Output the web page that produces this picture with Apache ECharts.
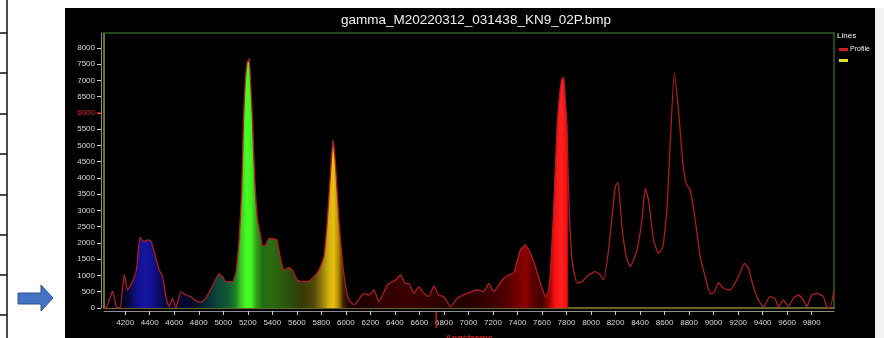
<!DOCTYPE html>
<html>
<head>
<meta charset="utf-8">
<script src="https://cdn.jsdelivr.net/npm/echarts@6/dist/echarts.min.js"></script>
<style>
html,body{margin:0;padding:0;background:#fff;}
#wrap{position:relative;width:884px;height:338px;overflow:hidden;background:#fff;}
#panel{position:absolute;left:65px;top:8px;width:810px;height:330px;background:#000;}
#side{position:absolute;left:875px;top:8px;width:9px;height:330px;background:#f2f2f2;}
#chart{position:absolute;left:0;top:0;width:884px;height:338px;}
</style>
</head>
<body>
<div id="wrap"><div id="panel"></div><div id="side"></div><div id="chart"></div></div>
<script>
// ---- data ----
const chartTitle = 'gamma_M20220312_031438_KN9_02P.bmp';
const xAxisName = 'Angstroms';
const seriesName = 'Profile';
const wavelengths = [4027,4044,4070,4097,4120,4132,4159,4192,4219,4260,4293,4320,4350,4383,4409,4442,4477,4505,4532,4558,4586,4613,4654,4695,4735,4776,4817,4857,4912,4966,4994,5020,5075,5102,5129,5150,5165,5180,5197,5205,5212,5225,5238,5257,5280,5300,5319,5346,5373,5414,5437,5469,5495,5536,5563,5604,5645,5686,5727,5781,5822,5849,5876,5895,5917,5943,5971,5998,6025,6066,6093,6147,6188,6229,6269,6338,6405,6446,6487,6514,6555,6595,6636,6677,6717,6758,6799,6853,6908,6990,7071,7125,7166,7206,7275,7328,7369,7424,7464,7505,7546,7587,7628,7650,7668,7695,7723,7758,7777,7790,7804,7817,7845,7886,7926,7980,8035,8075,8102,8143,8198,8220,8252,8287,8320,8375,8415,8442,8469,8510,8551,8586,8619,8646,8679,8713,8749,8776,8809,8850,8890,8931,8972,8999,9039,9080,9135,9202,9251,9284,9324,9365,9406,9461,9501,9528,9569,9610,9650,9691,9732,9760,9800,9841,9895,9922,9949,9982];
const intensities = [0,0,250,520,150,0,0,1037,553,810,1200,2175,2040,2092,2061,1661,1170,964,348,40,298,0,502,400,348,225,174,298,677,1046,964,810,810,1067,2092,3600,5785,7000,7600,7580,7680,6800,5785,3938,2700,2300,1917,1938,2144,2123,2092,1477,1170,1241,1170,862,810,810,913,1170,1600,2708,4246,5170,4348,2708,1477,656,250,100,194,452,400,554,194,708,862,1015,760,760,452,656,452,348,677,400,348,40,298,452,554,502,760,502,862,1015,1067,1785,1938,1682,1272,760,348,500,1067,3015,5580,7015,7098,6400,5580,3530,1477,760,810,1015,1117,1015,862,1785,3733,3856,2502,1579,1272,1785,2708,3682,3323,2092,1682,1887,3015,5068,7221,6092,4452,3836,3631,2708,1579,964,452,452,779,606,554,964,1374,1221,656,246,40,348,298,40,246,40,298,400,246,40,400,452,348,40,0,554];
const xTickLabels = [4200,4400,4600,4800,5000,5200,5400,5600,5800,6000,6200,6400,6600,6800,7000,7200,7400,7600,7800,8000,8200,8400,8600,8800,9000,9200,9400,9600,9800];
const yTickLabels = [0,500,1000,1500,2000,2500,3000,3500,4000,4500,5000,5500,6000,6500,7000,7500,8000];
// fill colour along the spectrum: [wavelength, colour]
const fillStops = [[4027,'#00000a'],[4170,'#000014'],[4240,'#0a0a48'],[4290,'#10108a'],[4370,'#1616a2'],[4430,'#10108a'],[4480,'#0a0a60'],[4540,'#05053a'],[4650,'#040430'],[4780,'#02102a'],[4880,'#083035'],[4960,'#0c4a3a'],[5040,'#105a30'],[5100,'#20802a'],[5150,'#40d020'],[5190,'#44ff22'],[5230,'#40f020'],[5270,'#30a018'],[5320,'#206c14'],[5400,'#2a6c12'],[5480,'#2c5c10'],[5560,'#2a4a0c'],[5650,'#383a08'],[5740,'#504a08'],[5810,'#9a8010'],[5860,'#d0b010'],[5900,'#e8c010'],[5940,'#b08a00'],[5980,'#402000'],[6020,'#200800'],[6100,'#1a0000'],[6300,'#300000'],[6500,'#3a0000'],[6700,'#300000'],[6900,'#200000'],[7100,'#300000'],[7300,'#500000'],[7420,'#7a0000'],[7470,'#900000'],[7520,'#600000'],[7600,'#400000'],[7660,'#a00000'],[7700,'#f01010'],[7760,'#ff2020'],[7800,'#ee1010'],[7808,'#cc0000'],[7812,'rgba(0,0,0,0)'],[9982,'rgba(0,0,0,0)']];
const cursorWavelength = 6737;
const highlightY = 6000;
const xMin = 4027, xMax = 9982, yMax = 8460;

// ---- chart ----
const chart = echarts.init(document.getElementById('chart'), null, {renderer:'canvas'});
const wMin = wavelengths[0], wMax = wavelengths[wavelengths.length-1];
const grad = new echarts.graphic.LinearGradient(0,0,1,0, fillStops.map(s => ({offset:(s[0]-wMin)/(wMax-wMin), color:s[1]})));
const FONT = 'Liberation Sans, Arial, sans-serif';

const hLines = [33,73,114,154,195,235,275,315].map((y,i) => ({
  type:'line', id:'h'+i, shape:{x1:0,y1:y,x2:7,y2:y}, style:{stroke:'#111',lineWidth:1.5}
}));

const option = {
  backgroundColor:'transparent',
  animation:false,
  title:{text:chartTitle, left:336, top:8, textStyle:{color:'#f0f0f0', fontSize:13.5, fontWeight:'normal', fontFamily:FONT}},
  legend:{
    orient:'vertical', left:839, top:46, padding:0, itemWidth:9, itemHeight:3, itemGap:6, icon:'rect',
    data:[{name:seriesName},{name:'yellow'}],
    formatter: n => n===seriesName ? n : '',
    textStyle:{color:'#f0f0f0', fontSize:7, fontFamily:FONT, padding:[0,0,0,-3]}
  },
  grid:{left:104, top:33, width:730, height:275, show:false, outerBoundsMode:'none', containLabel:false},
  xAxis:[
    {type:'value', min:xMin, max:xMax, position:'bottom', offset:3, gridIndex:0,
     axisLine:{show:true, onZero:false, lineStyle:{color:'#8e8e8e', width:1}},
     axisTick:{show:true, customValues:xTickLabels, length:4, lineStyle:{color:'#d0d0d0'}},
     axisLabel:{customValues:xTickLabels, formatter:v => String(v), color:'#d8d8d8', fontSize:8, margin:8, fontFamily:FONT},
     splitLine:{show:false},
     name:xAxisName, nameLocation:'middle', nameGap:23,
     nameTextStyle:{color:'#e02020', fontSize:9, fontWeight:'bold', fontFamily:FONT}},
    {type:'value', min:xMin, max:xMax, position:'bottom', offset:0,
     axisLine:{show:true, onZero:false, lineStyle:{color:'#8c8638', width:1.5}},
     axisTick:{show:false}, axisLabel:{show:false}, splitLine:{show:false}},
    {type:'value', min:xMin, max:xMax, position:'top', offset:0,
     axisLine:{show:true, onZero:false, lineStyle:{color:'#2e5e26', width:1.5}},
     axisTick:{show:false}, axisLabel:{show:false}, splitLine:{show:false}}
  ],
  yAxis:[
    {type:'value', min:0, max:yMax, position:'left', offset:3,
     axisLine:{show:true, onZero:false, lineStyle:{color:'#8e8e8e', width:1}},
     axisTick:{show:true, customValues:yTickLabels, length:4, lineStyle:{color:'#d0d0d0'}},
     axisLabel:{customValues:yTickLabels, formatter:v => String(v), fontSize:8, margin:6, fontFamily:FONT,
       color:(v) => (Number(v)===highlightY ? '#e02020' : '#d8d8d8')},
     splitLine:{show:false}},
    {type:'value', min:0, max:yMax, position:'left', offset:0,
     axisLine:{show:true, onZero:false, lineStyle:{color:'#9a9440', width:1.5}},
     axisTick:{show:false}, axisLabel:{show:false}, splitLine:{show:false}},
    {type:'value', min:0, max:yMax, position:'right', offset:0,
     axisLine:{show:true, onZero:false, lineStyle:{color:'#2e5e26', width:1.5}},
     axisTick:{show:false}, axisLabel:{show:false}, splitLine:{show:false}}
  ],
  series:[
    {name:seriesName, type:'line', xAxisIndex:0, yAxisIndex:0, symbol:'none', smooth:0.15,
     data: wavelengths.map((w,i) => [w, intensities[i]]),
     lineStyle:{color:'#b01c22', width:1.3}, itemStyle:{color:'#d01c20'},
     areaStyle:{color:grad, opacity:1}, z:3},
    {name:'yellow', type:'line', xAxisIndex:0, yAxisIndex:0, data:[], itemStyle:{color:'#e0e020'}, lineStyle:{color:'#e0e020'}}
  ],
  graphic:[
    {type:'line', id:'vline', shape:{x1:7,y1:0,x2:7,y2:338}, style:{stroke:'#111',lineWidth:1.5}},
    ...hLines,
    {type:'polygon', id:'arrow', shape:{points:[[18,293],[41,293],[41,285],[53,298],[41,311],[41,304],[18,304]]},
     style:{fill:'#4472c4', stroke:'#2f528f', lineWidth:1}},
    {type:'text', id:'lines', left:837, top:32, style:{text:'Lines', fill:'#f0f0f0', fontSize:8, fontFamily:FONT}}
  ]
};
chart.setOption(option);

// cursor marker + highlighted tick, placed through the axes' own scales
const cx = chart.convertToPixel({xAxisIndex:0}, cursorWavelength);
const hy = chart.convertToPixel({yAxisIndex:0}, highlightY);
const baseY = chart.convertToPixel({yAxisIndex:0}, 0);
const leftX = chart.convertToPixel({xAxisIndex:0}, xMin);
chart.setOption({graphic:[
  {type:'line', id:'cursor', shape:{x1:cx,y1:baseY+4,x2:cx,y2:baseY+20}, style:{stroke:'#d01818', lineWidth:1.5}, z:20},
  {type:'line', id:'redtick', shape:{x1:leftX-7,y1:hy,x2:leftX-3,y2:hy}, style:{stroke:'#e02020', lineWidth:1.5}, z:20}
]});
</script>
</body>
</html>
